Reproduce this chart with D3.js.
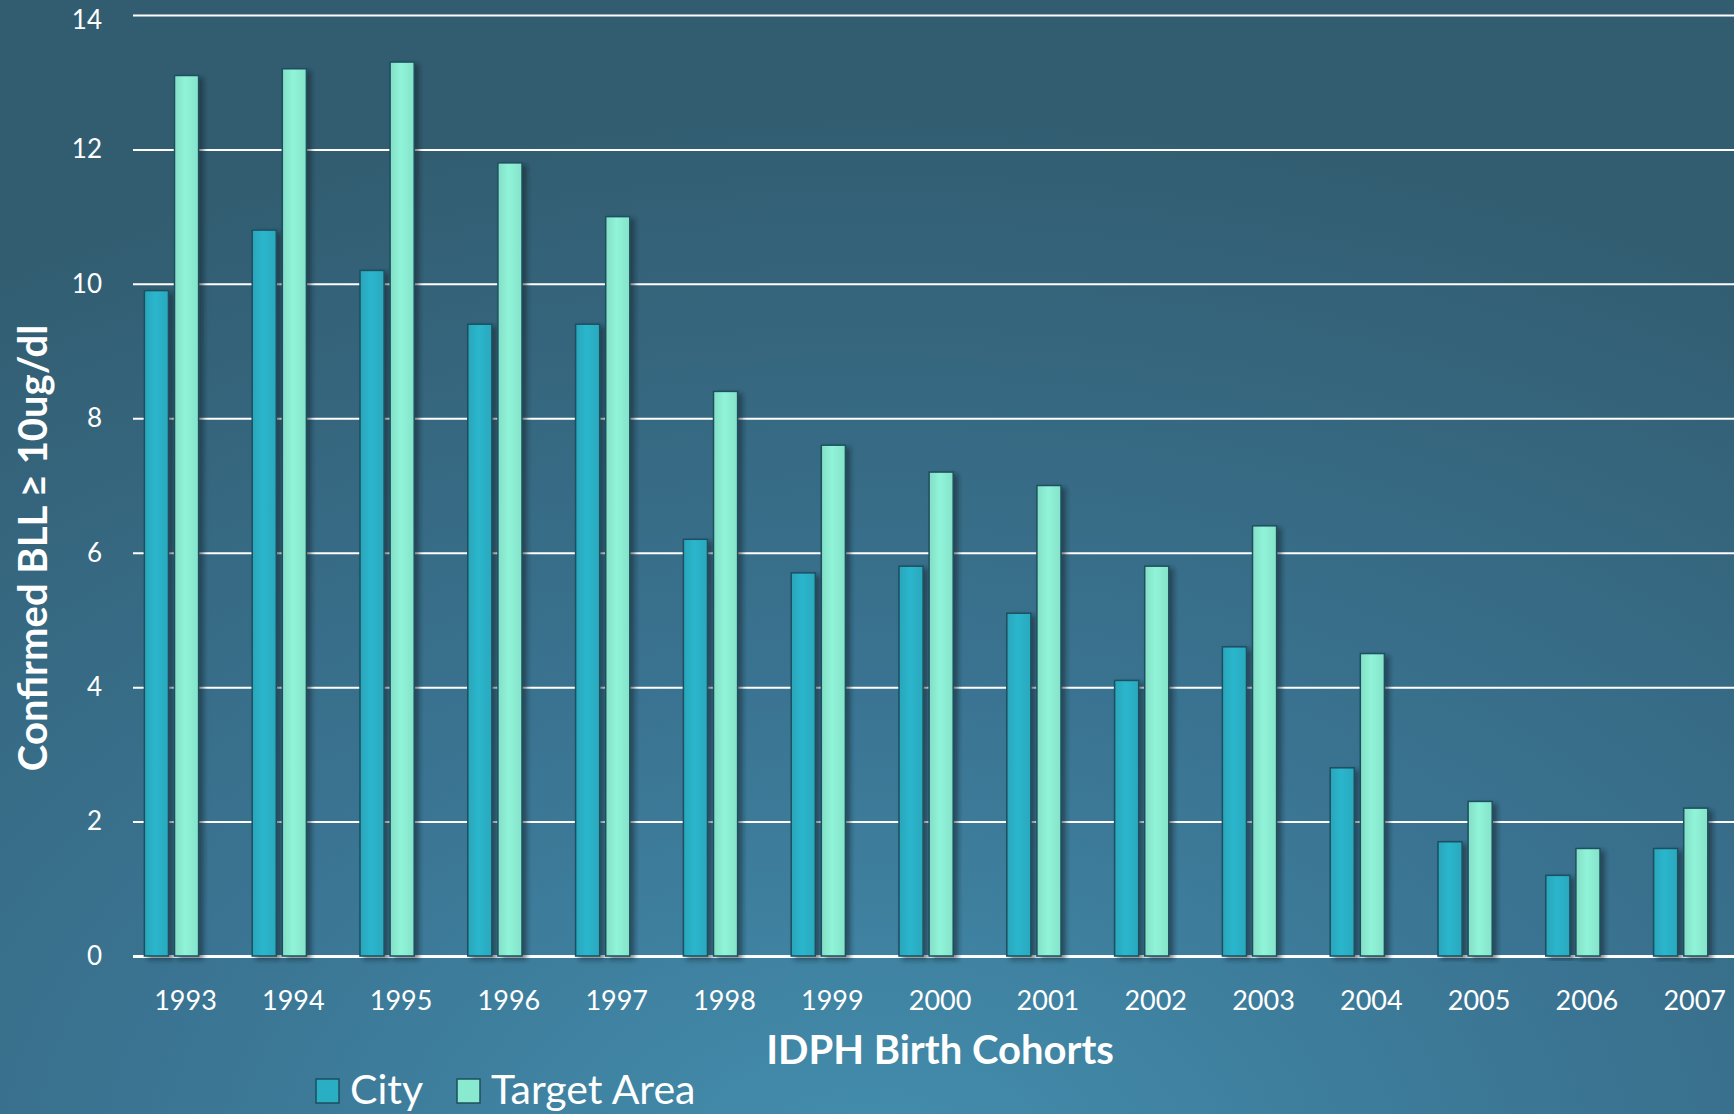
<!DOCTYPE html>
<html>
<head>
<meta charset="utf-8">
<script src="https://cdn.jsdelivr.net/npm/d3@7"></script>
<style>
  html, body { margin: 0; padding: 0; overflow: hidden; }
  body { width: 1734px; height: 1114px; }
  text { font-family: Lato, "Open Sans", sans-serif; fill: #fff; }
</style>
</head>
<body>
<div id="chart"></div>
<script>
// chart data
const years = ['1993', '1994', '1995', '1996', '1997', '1998', '1999', '2000',
               '2001', '2002', '2003', '2004', '2005', '2006', '2007'];
const seriesNames = ['City', 'Target Area'];
const cityValues = [9.9, 10.8, 10.2, 9.4, 9.4, 6.2, 5.7, 5.8, 5.1, 4.1, 4.6, 2.8, 1.7, 1.2, 1.6];
const targetValues = [13.1, 13.2, 13.3, 11.8, 11.0, 8.4, 7.6, 7.2, 7.0, 5.8, 6.4, 4.5, 2.3, 1.6, 2.2];
const yTicks = [0, 2, 4, 6, 8, 10, 12, 14];

const width = 1734;
const height = 1114;
const gridLeft = 133;
const colors = { 'City': '#2aaec4', 'Target Area': '#8aead0' };

const svg = d3.select('#chart')
    .append('svg')
    .attr('width', width)
    .attr('height', height);

const defs = svg.append('defs');

// background gradient
const bg = defs.append('radialGradient')
    .attr('id', 'bg')
    .attr('cx', '50%').attr('cy', '105%')
    .attr('r', '95%');
bg.append('stop').attr('offset', '0%').attr('stop-color', '#448eae');
bg.append('stop').attr('offset', '45%').attr('stop-color', '#3a7492');
bg.append('stop').attr('offset', '100%').attr('stop-color', '#325d71');

// bar shading
seriesNames.forEach((s, i) => {
    const g = defs.append('linearGradient')
        .attr('id', 'bar' + i)
        .attr('x1', 0).attr('x2', 1).attr('y1', 0).attr('y2', 0);
    const c = d3.color(colors[s]);
    g.append('stop').attr('offset', '0%').attr('stop-color', c.darker(0.15));
    g.append('stop').attr('offset', '45%').attr('stop-color', c.brighter(0.12));
    g.append('stop').attr('offset', '100%').attr('stop-color', c.darker(0.1));
});

defs.append('filter')
    .attr('id', 'shadow')
    .attr('x', '-20%').attr('y', '-5%').attr('width', '160%').attr('height', '110%')
    .append('feDropShadow')
    .attr('dx', 4).attr('dy', 3)
    .attr('stdDeviation', 2.5)
    .attr('flood-color', '#0b1e28')
    .attr('flood-opacity', 0.55);

svg.append('rect')
    .attr('width', width)
    .attr('height', height)
    .attr('fill', 'url(#bg)');

// scales
const x0 = d3.scaleBand()
    .domain(years)
    .range([117.6, 1734.6])
    .padding(0);

const x1 = d3.scaleBand()
    .domain(seriesNames)
    .range([0, x0.bandwidth()])
    .paddingInner(0.2)
    .paddingOuter(0.89);

const y = d3.scaleLinear()
    .domain([0, 14])
    .range([956, 15]);

// y axis + grid
const yAxis = svg.append('g')
    .attr('transform', `translate(${gridLeft},0)`)
    .call(d3.axisLeft(y)
        .tickValues(yTicks)
        .tickSize(-(width - gridLeft))
        .tickPadding(31)
        .tickFormat(d3.format('d')));
yAxis.select('.domain').remove();
yAxis.selectAll('.tick line')
    .attr('stroke', '#ffffff')
    .attr('stroke-width', d => d === 0 ? 3 : 2);
yAxis.selectAll('.tick text')
    .style('font-size', '26px')
    .attr('fill', '#fff')
    // top label sits a little low in the original, keep it inside the frame
    .attr('dy', d => d === 14 ? '0.5em' : '0.32em');

// bars
const rows = years.map((yr, i) => ({
    year: yr,
    values: [
        { key: 'City', value: cityValues[i] },
        { key: 'Target Area', value: targetValues[i] }
    ]
}));

const groups = svg.selectAll('.group')
    .data(rows)
    .enter()
    .append('g')
    .attr('class', 'group')
    .attr('transform', d => `translate(${x0(d.year)},0)`);

groups.selectAll('rect')
    .data(d => d.values)
    .enter()
    .append('rect')
    .attr('x', d => x1(d.key))
    .attr('y', d => y(d.value))
    .attr('width', x1.bandwidth())
    .attr('height', d => y(0) - y(d.value))
    .attr('fill', d => 'url(#bar' + seriesNames.indexOf(d.key) + ')')
    .attr('stroke', '#1d4f5f')
    .attr('stroke-width', 1.5)
    .attr('filter', 'url(#shadow)');

// x axis labels
const xAxis = svg.append('g')
    .attr('transform', `translate(14,${y(0) + 35})`)
    .call(d3.axisBottom(x0).tickSize(0).tickPadding(0));
xAxis.select('.domain').remove();
xAxis.selectAll('.tick text')
    .style('font-size', '27px')
    .attr('fill', '#fff');

// axis titles
svg.append('text')
    .attr('x', 940)
    .attr('y', 1064)
    .attr('text-anchor', 'middle')
    .style('font-size', '40px')
    .style('font-weight', 'bold')
    .text('IDPH Birth Cohorts');

svg.append('text')
    .attr('transform', 'translate(47,548) rotate(-90)')
    .attr('text-anchor', 'middle')
    .style('font-size', '40px')
    .style('font-weight', 'bold')
    .text('Confirmed BLL ≥ 10ug/dl');

// legend
const legendPos = [316, 457];
const legend = svg.selectAll('.legend')
    .data(seriesNames)
    .enter()
    .append('g')
    .attr('class', 'legend')
    .attr('transform', (d, i) => `translate(${legendPos[i]},1079)`);

legend.append('rect')
    .attr('width', 23)
    .attr('height', 24)
    .attr('fill', d => colors[d])
    .attr('stroke', '#1d4f5f')
    .attr('stroke-width', 1.5);

legend.append('text')
    .attr('x', 34)
    .attr('y', 25)
    .style('font-size', '41px')
    .text(d => d);
</script>
</body>
</html>
